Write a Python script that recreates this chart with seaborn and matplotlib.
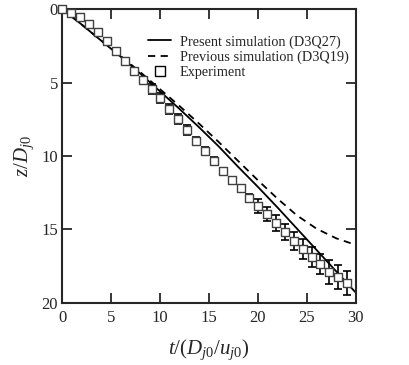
import matplotlib
matplotlib.use("Agg")
import matplotlib.pyplot as plt
import numpy as np
import pandas as pd
import seaborn as sns
from matplotlib.lines import Line2D

# Present simulation (D3Q27)
t_present = [0, 2, 4, 6, 8, 10, 12, 14, 16, 18, 20, 22, 24, 26, 28, 30]
z_present = [0, 1.05, 2.15, 3.25, 4.4, 5.6, 6.8, 8.05, 9.35, 10.75, 12.1, 13.5, 14.95, 16.4, 17.85, 19.3]

# Previous simulation (D3Q19)
t_previous = [0, 2, 4, 6, 8, 10, 12, 14, 16, 18, 20, 22, 24, 26, 28, 30]
z_previous = [0, 1.05, 2.15, 3.2, 4.3, 5.45, 6.6, 7.8, 9.05, 10.35, 11.65, 12.9, 14.05, 14.95, 15.6, 16.05]

# Experiment
t_exp = [0, 0.92, 1.84, 2.76, 3.67, 4.59, 5.51, 6.43, 7.35, 8.27, 9.18, 10.0,
         10.92, 11.84, 12.76, 13.67, 14.59, 15.51, 16.43, 17.35, 18.27, 19.08,
         20.0, 20.92, 21.84, 22.76, 23.67, 24.59, 25.51, 26.33, 27.24, 28.16, 29.08]
z_exp = [0, 0.27, 0.54, 1.02, 1.56, 2.18, 2.86, 3.54, 4.22, 4.83, 5.44, 6.05,
         6.80, 7.48, 8.23, 8.98, 9.66, 10.34, 11.02, 11.63, 12.18, 12.86,
         13.40, 13.95, 14.56, 15.17, 15.78, 16.33, 16.87, 17.35, 17.89, 18.23, 18.64]
z_err = [0, 0, 0, 0, 0, 0, 0, 0, 0, 0, 0.32, 0.35,
         0.35, 0.35, 0.35, 0.3, 0.3, 0.3, 0, 0, 0, 0.3,
         0.45, 0.5, 0.55, 0.55, 0.6, 0.7, 0.7, 0.7, 0.8, 0.8, 0.85]

sns.set_style("ticks")
plt.rcParams["font.family"] = ["Liberation Serif", "DejaVu Serif"]
plt.rcParams["mathtext.fontset"] = "custom"
plt.rcParams["mathtext.rm"] = "Liberation Serif"
plt.rcParams["mathtext.it"] = "Liberation Serif:italic"

present = pd.DataFrame({"t": t_present, "z": z_present})
previous = pd.DataFrame({"t": t_previous, "z": z_previous})
exp = pd.DataFrame({"t": t_exp, "z": z_exp, "err": z_err})

fig, ax = plt.subplots(figsize=(4.09, 3.65), dpi=100)
fig.subplots_adjust(left=0.1516, right=0.870, top=0.9753, bottom=0.1699)

sns.lineplot(data=present, x="t", y="z", color="black", linewidth=1.3, ax=ax)
sns.lineplot(data=previous, x="t", y="z", color="black", linewidth=1.3,
             linestyle=(0, (4, 3)), ax=ax)
err = exp[exp["err"] > 0]
ax.errorbar(err["t"], err["z"], yerr=err["err"], fmt="none", ecolor="black",
            elinewidth=1.2, capsize=3, capthick=1.2, zorder=3)
sns.scatterplot(data=exp, x="t", y="z", marker="s", s=34, facecolor="white",
                edgecolor="#404040", linewidth=1.0, zorder=4, clip_on=False, ax=ax)

ax.set_xlim(0, 30)
ax.set_ylim(20, 0)
ax.set_xticks([0, 5, 10, 15, 20, 25, 30])
ax.set_yticks([0, 5, 10, 15, 20])
ax.tick_params(direction="in", top=True, right=True, length=7, width=1.3,
               labelsize=12)
ax.tick_params(axis="x", pad=5)
ax.tick_params(axis="y", pad=3)
for s in ax.spines.values():
    s.set_linewidth(1.5)
ax.set_xlabel("$t/(D_{j0}/u_{j0})$", fontsize=15, labelpad=8)
ax.set_ylabel("$z/D_{j0}$", fontsize=15, labelpad=4)

handles = [
    Line2D([], [], color="black", linewidth=1.3),
    Line2D([], [], color="black", linewidth=1.3, linestyle=(0, (4, 3))),
    Line2D([], [], linestyle="none", marker="s", markersize=6.5,
           markerfacecolor="white", markeredgecolor="black"),
]
labels = ["Present simulation (D3Q27)", "Previous simulation (D3Q19)", "Experiment"]
ax.legend(handles, labels, loc="upper right", bbox_to_anchor=(1.02, 0.955),
          frameon=False, fontsize=10.3, handlelength=1.6, handletextpad=0.6,
          labelspacing=0.15)

fig.savefig("out.png", dpi=100)
